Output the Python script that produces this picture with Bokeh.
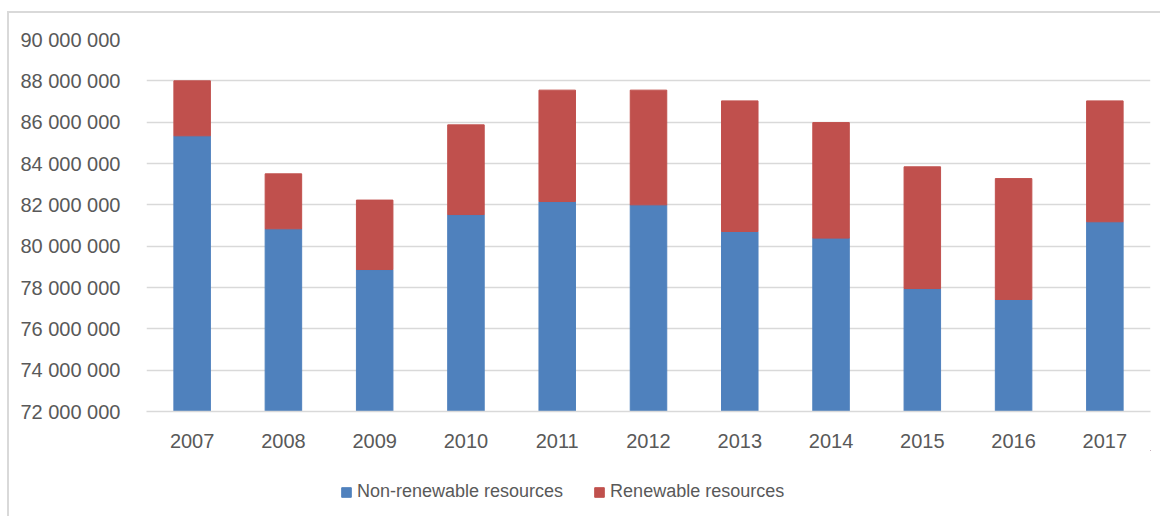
from bokeh.plotting import figure
from bokeh.layouts import column
from bokeh.models import ColumnDataSource, FixedTicker, Legend, LegendItem, Range1d
from bokeh.embed import file_html
from bokeh.resources import INLINE

years = ["2007", "2008", "2009", "2010", "2011", "2012", "2013", "2014", "2015", "2016", "2017"]
non_renewable = [85340000, 80840000, 78870000, 81530000, 82160000, 82000000, 80710000, 80390000, 77950000, 77420000, 81180000]
totals = [88000000, 83500000, 82230000, 85870000, 87550000, 87550000, 87030000, 85980000, 83840000, 83270000, 87030000]
renewable = [t - n for t, n in zip(totals, non_renewable)]
y_ticks = [72000000, 74000000, 76000000, 78000000, 80000000, 82000000, 84000000, 86000000, 88000000, 90000000]
series_names = ["Non-renewable resources", "Renewable resources"]

BLUE = "#4F81BD"
RED = "#C0504D"
TEXT = "#595959"
GRID = "#d9d9d9"
FONT = "Liberation Sans"

src = ColumnDataSource(dict(year=years, base=[72000000] * len(years), nr=non_renewable, tot=totals, ren=renewable))

p = figure(x_range=years, y_range=(72000000, 90000000), frame_width=1004, frame_height=372,
           min_border_left=137, min_border_right=10, min_border_top=26, min_border_bottom=0,
           output_backend="svg", toolbar_location=None, tools="")

p.vbar(x="year", bottom="base", top="nr", width=0.4, source=src, fill_color=BLUE, line_color=BLUE)
p.vbar(x="year", bottom="nr", top="tot", width=0.4, source=src, fill_color=RED, line_color=RED)

p.outline_line_color = None
p.xgrid.grid_line_color = None
p.ygrid.grid_line_color = GRID
p.ygrid.grid_line_width = 1.5

p.yaxis.ticker = FixedTicker(ticks=y_ticks)
p.yaxis.major_label_overrides = {t: f"{t:,}".replace(",", " ") for t in y_ticks}
for ax in (p.xaxis[0], p.yaxis[0]):
    ax.axis_line_color = None
    ax.major_tick_line_color = None
    ax.minor_tick_line_color = None
    ax.major_label_text_font = FONT
    ax.major_label_text_font_size = "20px"
    ax.major_label_text_color = TEXT
p.yaxis.major_label_standoff = 20
p.xaxis.major_label_standoff = 16
p.xaxis.axis_line_color = GRID
p.xaxis.axis_line_width = 1.5

# Legend-only figure below the chart
lf = figure(width=1151, height=66, x_range=Range1d(0, 1), y_range=Range1d(0, 1),
            min_border=0, output_backend="svg", toolbar_location=None, tools="")
lf.axis.visible = False
lf.grid.visible = False
lf.outline_line_color = None
dummy = ColumnDataSource(dict(x=[1000.0], bottom=[1000.0], top=[1001.0]))
l1 = lf.vbar(x="x", bottom="bottom", top="top", width=0.1, source=dummy, fill_color=BLUE, line_color=BLUE)
l2 = lf.vbar(x="x", bottom="bottom", top="top", width=0.1, source=dummy, fill_color=RED, line_color=RED)

legend = Legend(items=[LegendItem(label=series_names[0], renderers=[l1]),
                       LegendItem(label=series_names[1], renderers=[l2])],
                orientation="horizontal", location=(194, 14))
legend.label_text_font = FONT
legend.label_text_font_size = "18px"
legend.label_text_color = TEXT
legend.glyph_width = 12
legend.glyph_height = 12
legend.label_standoff = 5
legend.spacing = 30
legend.padding = 0
legend.margin = 0
legend.border_line_color = None
legend.background_fill_alpha = 0
lf.add_layout(legend, "center")

layout = column(p, lf, spacing=0)
layout.styles = {"border-top": "2px solid #d9d9d9", "border-left": "2px solid #d9d9d9",
                 "margin-top": "11px", "margin-left": "7px"}

open("out.html", "w").write(file_html(layout, INLINE))
